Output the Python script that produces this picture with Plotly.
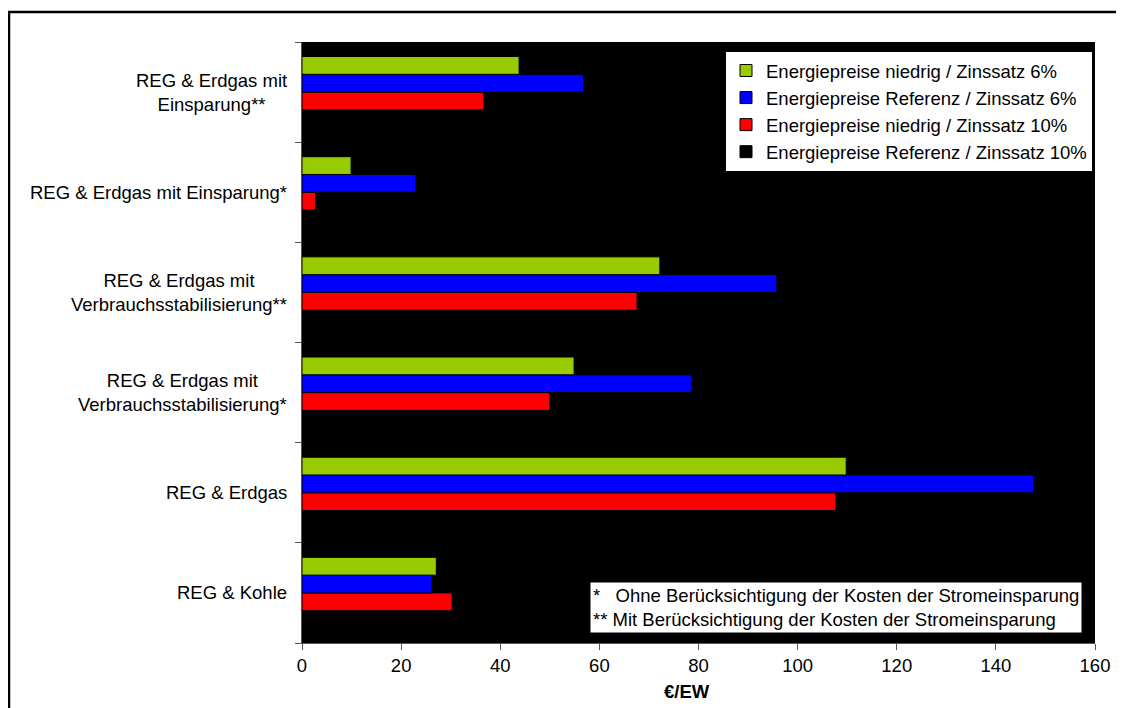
import plotly.graph_objects as go

categories = [
    "REG & Kohle",
    "REG & Erdgas",
    "REG & Erdgas mit<br>Verbrauchsstabilisierung*",
    "REG & Erdgas mit<br>Verbrauchsstabilisierung**",
    "REG & Erdgas mit Einsparung*",
    "REG & Erdgas mit<br>Einsparung**",
]
series_names = [
    "Energiepreise niedrig / Zinssatz 6%",
    "Energiepreise Referenz / Zinssatz 6%",
    "Energiepreise niedrig / Zinssatz 10%",
    "Energiepreise Referenz / Zinssatz 10%",
]
niedrig_6 = [27.1, 109.8, 54.9, 72.2, 9.9, 43.8]
referenz_6 = [26.2, 147.6, 78.6, 95.8, 22.9, 56.8]
niedrig_10 = [30.3, 107.7, 50.0, 67.6, 2.7, 36.7]
referenz_10 = [29.0, 140.0, 72.0, 90.0, 15.0, 50.0]  # black on black: not readable, estimated
colors = ["#99CC00", "#0000FF", "#FF0000", "#000000"]
x_ticks = [0, 20, 40, 60, 80, 100, 120, 140, 160]
x_title = "€/EW"
notes = ["*\u00a0\u00a0\u00a0Ohne Berücksichtigung der Kosten der Stromeinsparung",
         "**\u00a0Mit Berücksichtigung der Kosten der Stromeinsparung"]

FONT = "Liberation Sans, Arial, sans-serif"
FS = 18.5

# page body has an 8px margin; figure is shrunk accordingly
OFF = 8
W, H = 1124 - OFF, 708 - OFF
PL, PR, PT, PB = 302, 1095, 42, 643  # plot area in page pixels
ML, MT = PL - OFF, PT - OFF
MR, MB = W - (PR - OFF), H - (PB - OFF)
PW, PH = PR - PL, PB - PT


def px_x(px):
    return (px - PL) / PW


def px_y(py):
    return (PB - py) / PH


fig = go.Figure()
all_values = [niedrig_6, referenz_6, niedrig_10, referenz_10]
for i in [3, 2, 1, 0]:
    fig.add_trace(go.Bar(
        y=categories, x=all_values[i], orientation="h", name=series_names[i],
        marker=dict(color=colors[i], line=dict(color="#000000", width=1)),
    ))

annotations = []
for c in categories:
    annotations.append(dict(
        x=px_x(289), xref="paper", y=c, yref="y", text=c, showarrow=False,
        xanchor="right", yanchor="middle", align="center",
        font=dict(family=FONT, size=FS, color="#000000"),
    ))
annotations.append(dict(
    x=px_x(687), xref="paper", y=px_y(691), yref="paper", text="<b>" + x_title + "</b>",
    showarrow=False, xanchor="center", yanchor="middle",
    font=dict(family=FONT, size=FS, color="#000000"),
))
annotations.append(dict(
    x=px_x(590), xref="paper", y=px_y(633), yref="paper", text="<br>".join(notes),
    showarrow=False, xanchor="left", yanchor="bottom", align="left",
    bgcolor="#FFFFFF", borderpad=2,
    font=dict(family=FONT, size=FS, color="#000000"),
))

fig.update_layout(
    width=W, height=H,
    margin=dict(l=ML, r=MR, t=MT, b=MB, pad=0),
    paper_bgcolor="#FFFFFF", plot_bgcolor="#000000",
    barmode="group", bargap=0.29, bargroupgap=0,
    font=dict(family=FONT, size=FS, color="#000000"),
    showlegend=True,
    legend=dict(
        x=px_x(725), xanchor="left", y=px_y(51), yanchor="top",
        bgcolor="#FFFFFF", bordercolor="#000000", borderwidth=1,
        traceorder="reversed", font=dict(family=FONT, size=FS, color="#000000"),
        itemwidth=30,
    ),
    xaxis=dict(
        range=[0, 160], tickvals=x_ticks, ticks="outside", ticklen=6,
        tickcolor="#555555", showline=True, linecolor="#555555", linewidth=1,
        showgrid=False, zeroline=False,
        tickfont=dict(family=FONT, size=FS, color="#000000"),
    ),
    yaxis=dict(
        type="category", categoryorder="array", categoryarray=categories,
        showticklabels=False, ticks="outside", ticklen=6, tickson="boundaries",
        tickcolor="#555555", showline=True, linecolor="#555555", linewidth=1,
        showgrid=False, zeroline=False,
    ),
    annotations=annotations,
    shapes=[dict(
        type="rect", xref="paper", yref="paper",
        x0=px_x(9), x1=px_x(1150), y0=px_y(740), y1=px_y(12),
        line=dict(color="#000000", width=2.5), fillcolor="rgba(0,0,0,0)", layer="above",
    )],
)

fig.write_html("out.html")
